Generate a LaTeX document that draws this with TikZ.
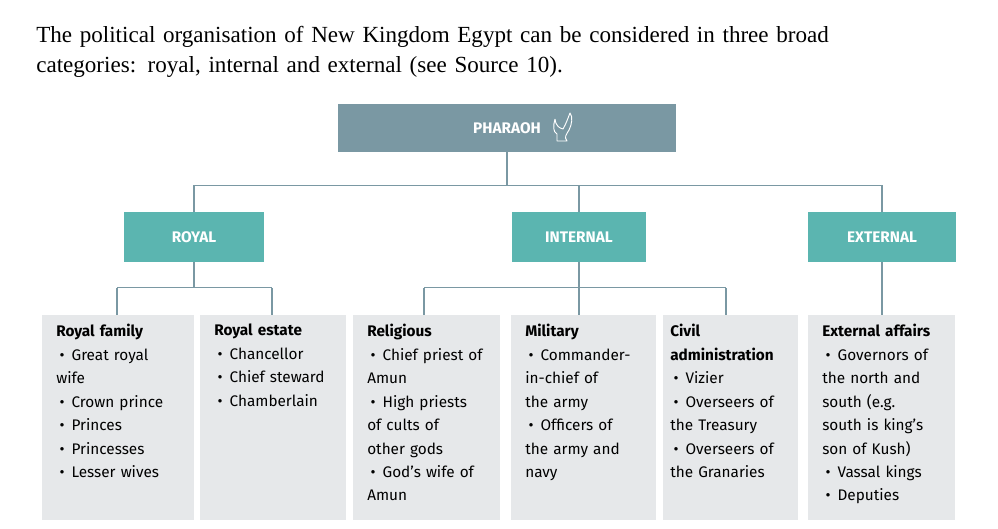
\documentclass[tikz,border=0pt]{standalone}
\usepackage{fontspec}
\setmainfont{Liberation Serif}
\setsansfont{Fira Sans}
\definecolor{pharaohgrey}{HTML}{7A98A3}
\definecolor{groupteal}{HTML}{5BB5B0}
\definecolor{listgrey}{HTML}{E6E8EA}
\definecolor{linegrey}{HTML}{7A98A3}
\newcommand\itm[1]{\par\hangindent=11.5pt\hangafter=1\noindent\makebox[11.5pt][l]{\hspace{2.5pt}\textbullet}#1}
\begin{document}
\begin{tikzpicture}[x=0.75pt,y=-0.75pt,
    head/.style={fill=groupteal,text=white,font=\sffamily\bfseries\fontsize{11.5}{14}\selectfont,inner sep=0pt},
    listtext/.style={font=\sffamily\fontsize{11.5}{17.6}\selectfont,align=left,anchor=north west,inner sep=0pt,text width=#1},
    link/.style={draw=linegrey,line width=0.8pt}]
    \useasboundingbox (0,0) rectangle (998,528);
    % Intro text
    \node[anchor=north west,text width=620pt,align=left,font=\fontsize{17.3}{22.5}\selectfont,inner sep=0pt] (intro) at (36,26)
        {The political organisation of New Kingdom Egypt can be considered in three broad\\categories: royal, internal and external (see Source 10).};
    % Pharaoh
    \node[head,fill=pharaohgrey,minimum width=253.5pt,minimum height=36pt] (pharaoh) at (507,128) {PHARAOH\hspace{40pt}};
    \draw[white,line width=0.7pt,line join=round] (555,119) .. controls (556,127) and (560,128) .. (563,129)
        .. controls (566,124) and (568,118) .. (570,113) .. controls (573,117) and (572,124) .. (569,130)
        .. controls (566,135) and (564,137) .. (567,141) -- (557,141) -- (557,134) .. controls (553,132) and (553,126) .. (555,119);
    % Groups
    \node[head,minimum width=105pt,minimum height=37pt] (royal) at (194,237) {ROYAL};
    \node[head,minimum width=100.5pt,minimum height=37pt] (internal) at (579,237) {INTERNAL};
    \node[head,minimum width=111pt,minimum height=37pt] (external) at (882,237) {EXTERNAL};
    % Lists
    \foreach \name/\x/\w in {family/42/152, estate/200/146, religious/353/147, military/511/145, civil/663/135, affairs/808/147} {
        \fill[listgrey] (\x,315) rectangle ++(\w,205);
        \coordinate (\name) at (\x+\w/2,315);
    }
    \node[listtext=108pt] (family-text) at (56,324) {\textbf{Royal family}
        \itm{Great royal\\wife}\itm{Crown prince}\itm{Princes}\itm{Princesses}\itm{Lesser wives}};
    \node[listtext=102pt] (estate-text) at (214,324) {\textbf{Royal estate}
        \itm{Chancellor}\itm{Chief steward}\itm{Chamberlain}};
    \node[listtext=102pt] (religious-text) at (367,324) {\textbf{Religious}
        \itm{Chief priest of\\Amun}\itm{High priests\\of cults of\\other gods}\itm{God's wife of\\Amun}};
    \node[listtext=102pt] (military-text) at (525,324) {\textbf{Military}
        \itm{Commander-\\in-chief of\\the army}\itm{Officers of\\the army and\\navy}};
    \node[listtext=100pt] (civil-text) at (670,324) {\textbf{Civil\\administration}
        \itm{Vizier}\itm{Overseers of\\the Treasury}\itm{Overseers of\\the Granaries}};
    \node[listtext=104pt] (affairs-text) at (822,324) {\textbf{External affairs}
        \itm{Governors of\\the north and\\south (e.g.\\south is king's\\son of Kush)}\itm{Vassal kings}\itm{Deputies}};
    % Connectors
    \draw[link] (pharaoh.south) -- ++(0,33) coordinate (split);
    \draw[link] (royal.north) |- (split) -| (external.north);
    \draw[link] (internal.north) -- (internal.north |- split);
    \draw[link] (royal.south) -- ++(0,26) coordinate (royal-split);
    \draw[link] (117,0 |- royal-split) -- (272,0 |- royal-split);
    \draw[link] (117,0 |- royal-split) -- (117,315);
    \draw[link] (272,0 |- royal-split) -- (272,315);
    \draw[link] (internal.south) -- ++(0,26) coordinate (internal-split);
    \draw[link] (424,0 |- internal-split) -- (726,0 |- internal-split);
    \draw[link] (424,0 |- internal-split) -- (424,315);
    \draw[link] (internal-split) -- (internal-split |- military);
    \draw[link] (726,0 |- internal-split) -- (726,315);
    \draw[link] (external.south) -- (external.south |- affairs);
\end{tikzpicture}
\end{document}
